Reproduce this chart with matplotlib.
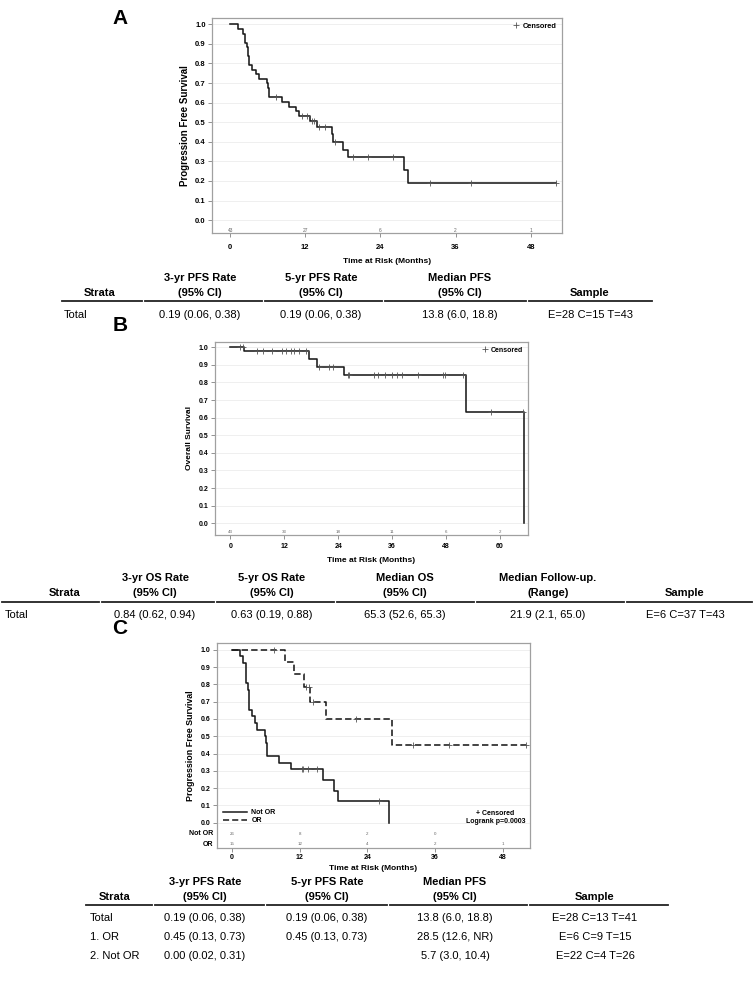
import numpy as np
import matplotlib
matplotlib.use("Agg")
import matplotlib.pyplot as plt
from matplotlib.lines import Line2D

plt.rcParams['font.family'] = ['Liberation Sans', 'DejaVu Sans']

W, H = 754, 981

# ---- panel A : PFS, all patients ----
a_event_t = [1.33, 2.02, 2.39, 2.66, 2.82, 3.03, 3.46, 4.15, 4.68, 5.85, 6.01, 6.23,
             8.35, 9.42, 10.54, 11.0, 12.77, 13.84, 16.23, 16.5, 18.09, 18.89, 27.83, 28.47]
a_event_s = [0.977, 0.953, 0.907, 0.884, 0.837, 0.791, 0.767, 0.744, 0.721, 0.698, 0.674, 0.628,
             0.604, 0.580, 0.556, 0.532, 0.505, 0.478, 0.44, 0.40, 0.36, 0.32, 0.256, 0.192]
a_cens_t = [7.34, 11.44, 12.24, 13.04, 13.41, 14.26, 15.17, 16.76, 19.69, 21.98, 26.08,
            31.93, 38.48, 52.05]
a_end = 52.05
a_risk_t = [0, 12, 24, 36, 48]
a_risk_n = ['43', '27', '6', '2', '1']

# ---- panel B : OS, all patients ----
b_event_t = [2.97, 17.5, 19.2, 25.4, 52.5, 65.3]
b_event_s = [0.977, 0.934, 0.890, 0.841, 0.631, 0.0]
b_cens_t = [2.1, 2.7, 5.95, 7.3, 9.3, 11.5, 12.3, 13.4, 14.1, 15.2, 16.9, 19.7, 21.9, 22.8,
            26.2, 26.5, 32.0, 32.9, 34.5, 35.9, 37.1, 38.3, 41.8, 47.3, 47.7, 51.9, 58.1, 65.2]
b_end = 65.3
b_risk_t = [0, 12, 24, 36, 48, 60]
b_risk_n = ['43', '33', '18', '11', '6', '2']

# ---- panel C : PFS by response ----
notor_event_t = [1.42, 2.0, 2.48, 2.78, 3.01, 3.49, 4.08, 4.49, 5.79, 5.97, 6.15,
                 8.4, 10.4, 16.2, 18.1, 18.85, 27.8]
notor_event_s = [0.962, 0.923, 0.808, 0.769, 0.654, 0.615, 0.577, 0.538, 0.50, 0.462, 0.385,
                 0.346, 0.308, 0.246, 0.185, 0.123, 0.0]
notor_cens_t = [12.4, 12.6, 13.5, 15.0, 26.1]
notor_end = 27.8

or_event_t = [9.4, 11.05, 12.77, 13.83, 16.7, 28.4]
or_event_s = [0.929, 0.857, 0.786, 0.70, 0.60, 0.45]
or_cens_t = [7.5, 13.2, 13.7, 14.3, 22.0, 32.0, 38.5, 52.1]
or_end = 52.1

c_risk_t = [0, 12, 24, 36, 48]
c_risk_notor = ['26', '8', '2', '0', '']
c_risk_or = ['15', '12', '4', '2', '1']

# ---- tables ----
a_head1 = ['', '3-yr PFS Rate', '5-yr PFS Rate', 'Median PFS', '']
a_head2 = ['Strata', '(95% CI)', '(95% CI)', '(95% CI)', 'Sample']
a_rows = [['Total', '0.19 (0.06, 0.38)', '0.19 (0.06, 0.38)', '13.8 (6.0, 18.8)', 'E=28 C=15 T=43']]

b_head1 = ['', '3-yr OS Rate', '5-yr OS Rate', 'Median OS', 'Median Follow-up.', '']
b_head2 = ['Strata', '(95% CI)', '(95% CI)', '(95% CI)', '(Range)', 'Sample']
b_rows = [['Total', '0.84 (0.62, 0.94)', '0.63 (0.19, 0.88)', '65.3 (52.6, 65.3)',
           '21.9 (2.1, 65.0)', 'E=6 C=37 T=43']]

c_head1 = ['', '3-yr PFS Rate', '5-yr PFS Rate', 'Median PFS', '']
c_head2 = ['Strata', '(95% CI)', '(95% CI)', '(95% CI)', 'Sample']
c_rows = [['Total', '0.19 (0.06, 0.38)', '0.19 (0.06, 0.38)', '13.8 (6.0, 18.8)', 'E=28 C=13 T=41'],
          ['1. OR', '0.45 (0.13, 0.73)', '0.45 (0.13, 0.73)', '28.5 (12.6, NR)', 'E=6 C=9 T=15'],
          ['2. Not OR', '0.00 (0.02, 0.31)', '', '5.7 (3.0, 10.4)', 'E=22 C=4 T=26']]

LINE = '#1a1a1a'
CENS = '#555555'


def px_axes(fig, left, top, right, bottom):
    return fig.add_axes([left / W, 1 - bottom / H, (right - left) / W, (bottom - top) / H])


def km_curve(ax, ev_t, ev_s, cens_t, t_end, ls='-'):
    x = np.concatenate([[0.0], ev_t, [t_end]])
    y = np.concatenate([[1.0], ev_s, [ev_s[-1]]])
    ax.step(x, y, where='post', color=LINE, lw=1.15, ls=ls, zorder=3)
    levels = np.concatenate([[1.0], ev_s])
    cy = levels[np.searchsorted(ev_t, cens_t, side='right')]
    ax.plot(cens_t, cy, ls='none', marker='+', ms=5, mew=0.6, color=CENS, zorder=4)


def style_axes(ax, xlim, ylim, xticks, ylabel, yl_size, tick_size, xpad, xlpad):
    ax.set_xlim(*xlim)
    ax.set_ylim(*ylim)
    ax.set_yticks(np.round(np.arange(0, 1.01, 0.1), 1))
    ax.set_yticklabels(['%.1f' % v for v in np.arange(0, 1.01, 0.1)])
    ax.set_xticks(xticks)
    ax.grid(axis='y', color='#ececec', lw=0.6)
    ax.set_axisbelow(True)
    for s in ax.spines.values():
        s.set_color('#a0a0a0')
        s.set_linewidth(0.9)
    ax.tick_params(axis='both', length=3, width=0.6, color='#808080',
                   labelsize=tick_size, pad=1.5)
    ax.tick_params(axis='x', pad=xpad)
    for lab in ax.get_xticklabels() + ax.get_yticklabels():
        lab.set_fontweight('bold')
    ax.set_ylabel(ylabel, fontsize=yl_size, fontweight='bold', labelpad=4)
    ax.set_xlabel('Time at Risk (Months)', fontsize=6, fontweight='bold', labelpad=xlpad)


def risk_row(ax, times, counts, yval, size=3.5):
    for t, n in zip(times, counts):
        ax.text(t, yval, n, ha='center', va='center', fontsize=size, color='#666666')


def draw_table(fig, cols_x, bounds, head1, head2, rows, y1, y2, y_rule, y_row0, dy,
               left_x, size=8):
    for i, cx in enumerate(cols_x):
        if head1[i]:
            fig.text(cx / W, 1 - y1 / H, head1[i], ha='center', va='center',
                     fontsize=size, fontweight='bold')
        fig.text(cx / W, 1 - y2 / H, head2[i], ha='center', va='center',
                 fontsize=size, fontweight='bold')
    for k in range(len(bounds) - 1):
        x0 = bounds[k] + (1.5 if k > 0 else 0)
        x1 = bounds[k + 1] - (1.5 if k < len(bounds) - 2 else 0)
        fig.add_artist(Line2D([x0 / W, x1 / W], [1 - y_rule / H] * 2, color='#222222',
                              lw=1.3, transform=fig.transFigure))
    for r, row in enumerate(rows):
        yy = 1 - (y_row0 + r * dy) / H
        fig.text(left_x / W, yy, row[0], ha='left', va='center', fontsize=size)
        for i in range(1, len(row)):
            fig.text(cols_x[i] / W, yy, row[i], ha='center', va='center', fontsize=size)


fig = plt.figure(figsize=(W / 100, H / 100), dpi=100)
cens_handle = Line2D([], [], ls='none', marker='+', ms=5, mew=0.6, color=CENS)

# ---------------- A ----------------
axA = px_axes(fig, 212, 17.5, 562, 233)
km_curve(axA, a_event_t, a_event_s, a_cens_t, a_end)
style_axes(axA, (-2.9, 53.0), (-0.066, 1.035), [0, 12, 24, 36, 48],
           'Progression Free Survival', 7, 5.5, 5, 5)
risk_row(axA, a_risk_t, a_risk_n, -0.054)
axA.legend([cens_handle], ['Censored'], loc='upper right', frameon=False,
           prop={'size': 5.3, 'weight': 'bold'}, handlelength=1, handletextpad=0.4,
           borderaxespad=0.3)
fig.text(120 / W, 1 - 18 / H, 'A', fontsize=15, fontweight='bold', ha='center', va='center')

draw_table(fig, [100, 200, 321, 460, 590], [62, 143, 263, 383, 527, 652],
           a_head1, a_head2, a_rows, 278, 293, 301, 315, 19, 64)

# ---------------- B ----------------
axB = px_axes(fig, 215, 342, 528, 535)
km_curve(axB, b_event_t, b_event_s, b_cens_t, b_end)
style_axes(axB, (-3.44, 66.3), (-0.067, 1.03), [0, 12, 24, 36, 48, 60],
           'Overall Survival', 6, 5, 2.5, 5)
risk_row(axB, b_risk_t, b_risk_n, -0.052, 3.2)
axB.legend([cens_handle], ['Censored'], loc='upper right', frameon=False,
           prop={'size': 5, 'weight': 'bold'}, handlelength=1, handletextpad=0.4,
           borderaxespad=0.3)
fig.text(120 / W, 1 - 325 / H, 'B', fontsize=15, fontweight='bold', ha='center', va='center')

draw_table(fig, [65, 155, 272, 405, 548, 685], [2, 100, 215, 335, 475, 625, 752],
           b_head1, b_head2, b_rows, 578, 593, 602, 615, 19, 5)

# ---------------- C ----------------
axC = px_axes(fig, 216.7, 643.3, 530, 848)
km_curve(axC, notor_event_t, notor_event_s, notor_cens_t, notor_end, ls='-')
km_curve(axC, or_event_t, or_event_s, or_cens_t, or_end, ls=(0, (4, 2)))
style_axes(axC, (-2.7, 52.8), (-0.146, 1.037), [0, 12, 24, 36, 48],
           'Progression Free Survival', 6.4, 5, 1.5, 3)
risk_row(axC, c_risk_t, c_risk_notor, -0.065, 3.2)
risk_row(axC, c_risk_t, c_risk_or, -0.123, 3.2)
axC.text(-0.012, -0.065, 'Not OR', transform=axC.get_yaxis_transform(), ha='right',
         va='center', fontsize=5, fontweight='bold')
axC.text(-0.012, -0.123, 'OR', transform=axC.get_yaxis_transform(), ha='right',
         va='center', fontsize=5, fontweight='bold')
h_notor = Line2D([], [], color=LINE, lw=1.1)
h_or = Line2D([], [], color=LINE, lw=1.1, ls=(0, (4, 2)))
axC.legend([h_notor, h_or], ['Not OR', 'OR'], loc='lower left', frameon=False,
           prop={'size': 5, 'weight': 'bold'}, handlelength=3.5, handletextpad=0.6,
           labelspacing=0.15, borderpad=0, borderaxespad=0.0,
           bbox_to_anchor=(0.02, 0.115))
axC.text(0.89, 0.15, '+ Censored\nLogrank p=0.0003', transform=axC.transAxes,
         ha='center', va='center', fontsize=5, fontweight='bold', linespacing=1.3)
fig.text(120 / W, 1 - 628 / H, 'C', fontsize=15, fontweight='bold', ha='center', va='center')

draw_table(fig, [115, 205, 327, 455, 595], [86, 153, 265, 388, 528, 668],
           c_head1, c_head2, c_rows, 882, 897, 905, 918, 19, 90)

fig.savefig('out.png', dpi=100)
